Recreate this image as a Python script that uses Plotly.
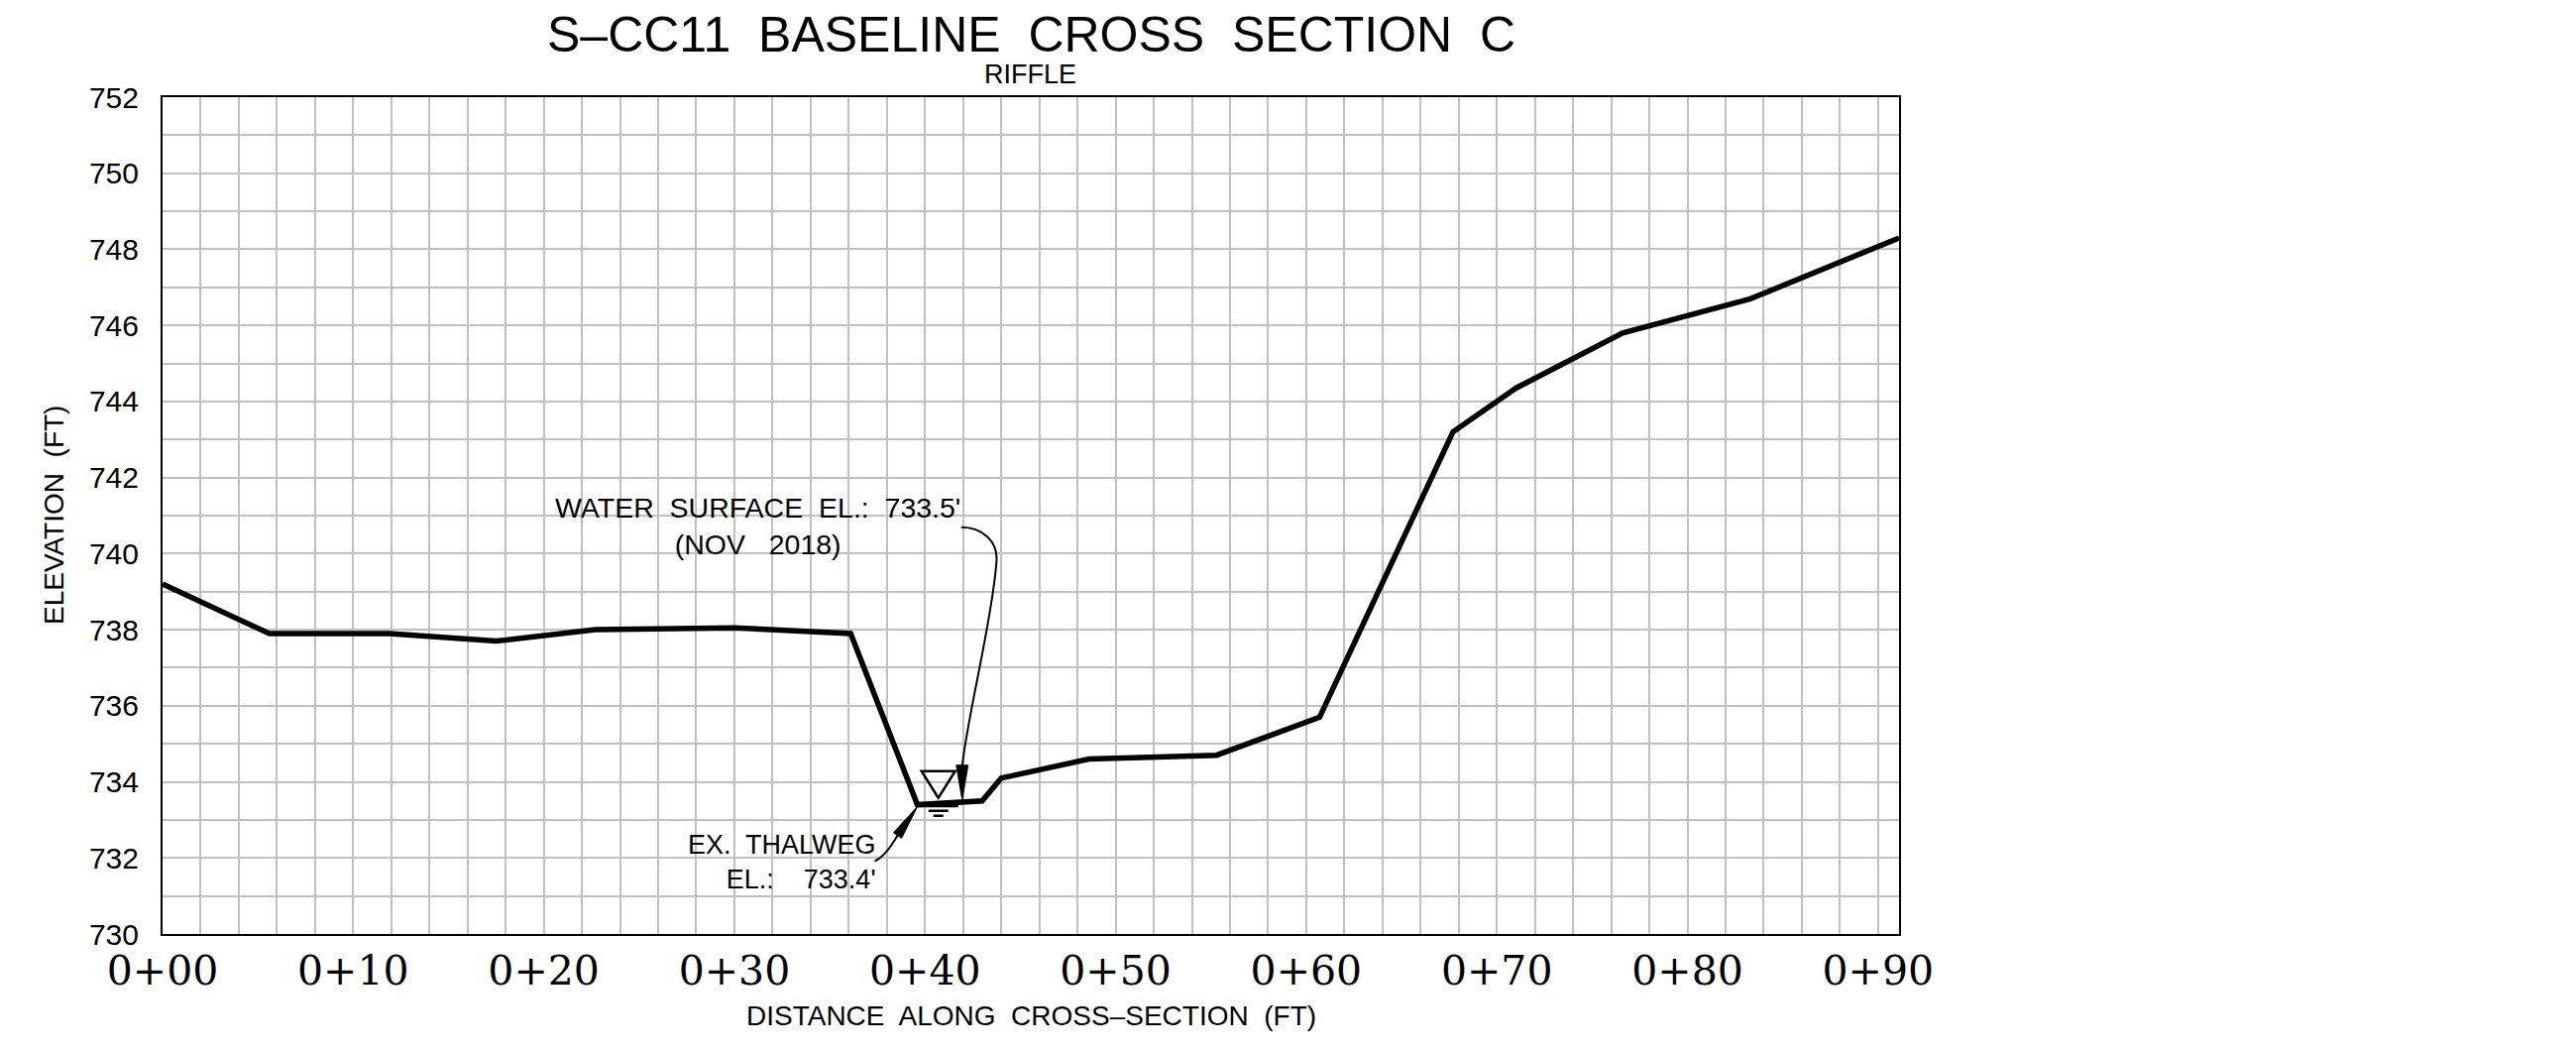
import plotly.graph_objects as go

# ---------------- data ----------------
stations = [0.0, 5.6, 11.9, 17.5, 22.7, 30.0, 36.1, 39.6, 43.0, 44.0, 48.6, 55.3, 60.7, 67.7, 71.0, 76.6, 83.3, 91.1]
elevations = [739.2, 737.9, 737.9, 737.7, 738.0, 738.05, 737.9, 733.4, 733.5, 734.1, 734.6, 734.7, 735.7, 743.2, 744.35, 745.8, 746.7, 748.3]

x_tick_vals = [0, 10, 20, 30, 40, 50, 60, 70, 80, 90]
x_tick_text = ["0+00", "0+10", "0+20", "0+30", "0+40", "0+50", "0+60", "0+70", "0+80", "0+90"]
y_tick_vals = [730, 732, 734, 736, 738, 740, 742, 744, 746, 748, 750, 752]

thalweg_station = 39.6
thalweg_elev = 733.4
ws_symbol_station = 40.7
ws_arrow_station = 41.95
ws_elev = 733.5

NB = "\u00a0"
title_text = f"S\u2013CC11{NB} BASELINE{NB} CROSS{NB} SECTION{NB} C"
subtitle_text = "RIFFLE"
ws_label = f"WATER{NB} SURFACE{NB} EL.:{NB} 733.5'<br>(NOV{NB}{NB} 2018)"
thalweg_label = f"EX.{NB} THALWEG<br>EL.:{NB}{NB}{NB} 733.4'"
x_title = f"DISTANCE{NB} ALONG{NB} CROSS\u2013SECTION{NB} (FT)"
y_title = f"ELEVATION{NB} (FT)"

# ---------------- layout geometry ----------------
# positions below are in screen pixels of the 2599x1061 page; the page body has an 8px margin
OFF = 8
W, H = 2599 - 2 * OFF, 1061 - 2 * OFF
PL, PR, PT, PB = 164, 1916, 98, 942
PW, PH = PR - PL, PB - PT


def fx(px):
    return (px - PL) / PW


def fy(py):
    return (PB - py) / PH


SANS = "Liberation Sans, Arial, sans-serif"
SERIF = "DejaVu Serif, Liberation Serif, serif"
GRID = "#c0c0c0"

fig = go.Figure()
fig.add_trace(go.Scatter(
    x=stations, y=elevations, mode="lines",
    line=dict(color="black", width=5.5), hoverinfo="skip", showlegend=False,
))

shapes = []
# white label boxes (above grid, below traces)
shapes.append(dict(type="rect", xref="paper", yref="paper", layer="between",
                   x0=fx(547), x1=fx(978), y0=fy(573), y1=fy(487),
                   fillcolor="white", line=dict(width=0)))
shapes.append(dict(type="rect", xref="paper", yref="paper", layer="between",
                   x0=fx(689), x1=fx(892), y0=fy(905), y1=fy(830),
                   fillcolor="white", line=dict(width=0)))

# water surface symbol (inverted triangle + bars), anchored at water level
ws_common = dict(type="path", xref="x", yref="y", xsizemode="pixel", ysizemode="pixel",
                 xanchor=ws_symbol_station, yanchor=ws_elev, layer="above")
shapes.append(dict(ws_common, path="M 0 3 L -17 30 L 17 30 Z", line=dict(color="black", width=2.5)))
shapes.append(dict(ws_common, path="M -20 -5 L 20 -5", line=dict(color="black", width=3)))
shapes.append(dict(ws_common, path="M -10 -10 L 10 -10", line=dict(color="black", width=2.5)))
shapes.append(dict(ws_common, path="M -5 -15 L 5 -15", line=dict(color="black", width=2.5)))

# water surface leader + arrowhead
ws_arrow = dict(type="path", xref="x", yref="y", xsizemode="pixel", ysizemode="pixel",
                xanchor=ws_arrow_station, yanchor=ws_elev, layer="above")
shapes.append(dict(ws_arrow, path="M 0 35 C 6 90, 30 180, 34.5 240 C 37 262, 20 276, -1 276",
                   line=dict(color="black", width=2)))
shapes.append(dict(ws_arrow, path="M 0 1 L -6 36 L 6 36 Z", fillcolor="black",
                   line=dict(color="black", width=1)))

# thalweg leader + arrowhead
th_arrow = dict(type="path", xref="x", yref="y", xsizemode="pixel", ysizemode="pixel",
                xanchor=thalweg_station, yanchor=thalweg_elev, layer="above")
shapes.append(dict(th_arrow, path="M -20 -31 Q -32 -52 -43 -57",
                   line=dict(color="black", width=2)))
shapes.append(dict(th_arrow, path="M 0 -2 L -15.9 -33.8 L -24.1 -28.2 Z", fillcolor="black",
                   line=dict(color="black", width=1)))

annotations = [
    dict(text=title_text, xref="paper", yref="paper", x=fx(1040), y=fy(35),
         xanchor="center", yanchor="middle", showarrow=False,
         font=dict(family=SANS, size=50, color="black")),
    dict(text=subtitle_text, xref="paper", yref="paper", x=fx(1039), y=fy(75),
         xanchor="center", yanchor="middle", showarrow=False,
         font=dict(family=SANS, size=27, color="black")),
    dict(text=x_title, xref="paper", yref="paper", x=fx(1040), y=fy(1024),
         xanchor="center", yanchor="middle", showarrow=False,
         font=dict(family=SANS, size=28, color="black")),
    dict(text=y_title, xref="paper", yref="paper", x=fx(54), y=fy(520),
         xanchor="center", yanchor="middle", showarrow=False, textangle=-90,
         font=dict(family=SANS, size=28, color="black")),
    dict(text=ws_label, xref="paper", yref="paper", x=fx(764), y=fy(530),
         xanchor="center", yanchor="middle", align="center", showarrow=False,
         font=dict(family=SANS, size=28.5, color="black")),
    dict(text=thalweg_label, xref="paper", yref="paper", x=fx(886), y=fy(869),
         xanchor="right", yanchor="middle", align="right", showarrow=False,
         font=dict(family=SANS, size=27, color="black")),
]

fig.update_layout(
    width=W, height=H, autosize=False,
    margin=dict(l=PL - OFF, r=W - (PR - OFF), t=PT - OFF, b=H - (PB - OFF), pad=0),
    paper_bgcolor="white", plot_bgcolor="white",
    showlegend=False,
    shapes=shapes,
    annotations=annotations,
    xaxis=dict(
        range=[0, 91.1], tickmode="array", tickvals=x_tick_vals, ticktext=x_tick_text,
        showgrid=True, gridcolor=GRID, gridwidth=1.5, zeroline=False,
        showline=True, linecolor="black", linewidth=2, mirror=True,
        ticks="", ticklabelstandoff=0,
        tickfont=dict(family=SERIF, size=41, color="black"),
        minor=dict(dtick=2, tick0=0, showgrid=True, gridcolor=GRID, gridwidth=1.5),
        fixedrange=True,
    ),
    yaxis=dict(
        range=[730, 752], tickmode="array", tickvals=y_tick_vals,
        showgrid=True, gridcolor=GRID, gridwidth=1.5, zeroline=False,
        showline=True, linecolor="black", linewidth=2, mirror=True,
        ticks="", ticklabelstandoff=16,
        tickfont=dict(family=SANS, size=30, color="black"),
        minor=dict(dtick=1, tick0=730, showgrid=True, gridcolor=GRID, gridwidth=1.5),
        fixedrange=True,
    ),
)

fig.write_html("out.html")
